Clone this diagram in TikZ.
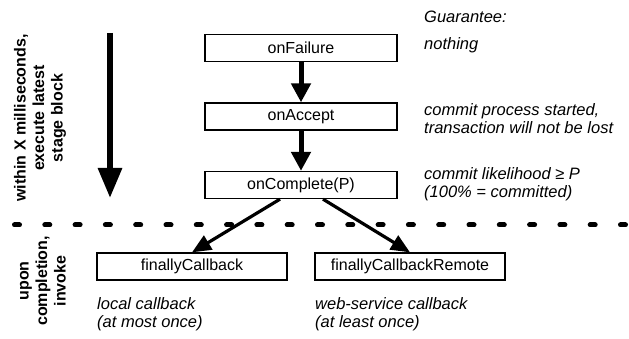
\documentclass[tikz,border=0pt]{standalone}
\usepackage{fontspec}
\setmainfont{Liberation Sans}
\usetikzlibrary{arrows.meta,calc}
\begin{document}
\begin{tikzpicture}[x=1pt,y=-1pt,
  stagebox/.style={draw,line width=1.3pt,minimum width=192pt,minimum height=27pt,inner sep=0pt,font=\fontsize{16pt}{18pt}\selectfont},
  note/.style={anchor=west,align=left,inner sep=0pt,font=\fontsize{16.5pt}{18pt}\selectfont\itshape},
  side/.style={rotate=90,align=center,inner sep=0pt,font=\fontsize{16pt}{18.5pt}\selectfont\bfseries},
  stepflow/.style={line width=5pt,-{Triangle[width=19pt,length=19pt]}},
  cbflow/.style={line width=3.2pt,-{Triangle[width=16pt,length=19pt]}}]
\useasboundingbox (0,0) rectangle (629,339);
% boxes
\node[stagebox] (of) at (301,48) {onFailure};
\node[stagebox] (oa) at (301,116.5) {onAccept};
\node[stagebox] (oc) at (301,185) {onComplete(P)};
\node[stagebox,minimum width=190pt] (fc) at (192,266.5) {finallyCallback};
\node[stagebox,minimum width=190pt] (fr) at (410,266.5) {finallyCallbackRemote};
% connectors
\draw[stepflow] (of.south) -- (oa.north);
\draw[stepflow] (oa.south) -- (oc.north);
\coordinate (ocl) at ($(oc.south)+(-21,0)$);
\coordinate (ocr) at ($(oc.south)+(22,0)$);
\draw[cbflow] (ocl) -- (fc.north);
\draw[cbflow] (ocr) -- (fr.north);
% big time arrow
\coordinate (ta) at (110,33);
\coordinate (tb) at (110,198);
\draw[line width=6pt,-{Triangle[width=23pt,length=30pt]}] (ta) -- (tb);
% dotted separator
\coordinate (dl) at (14.5,225);
\coordinate (dr) at (640,225);
\draw[line width=5pt,line cap=round,dash pattern=on 5pt off 25.3pt] (dl) -- (dr);
% side labels
\node[side] (s1) at (40,118) {within X milliseconds,\\execute latest\\stage block};
\node[side] (s2) at (43,281) {upon\\completion,\\invoke};
% notes
\node[note] (g) at (424,17) {Guarantee:};
\node[note] (n1) at (424,45) {nothing};
\node[note] (n2) at (424,119) {commit process started,\\transaction will not be lost};
\node[note] (n3) at (424,184) {commit likelihood ≥ P\\(100\% = committed)};
\node[note] (n4) at (97,314) {local callback\\(at most once)};
\node[note] (n5) at (315,314) {web-service callback\\(at least once)};
\end{tikzpicture}
\end{document}
